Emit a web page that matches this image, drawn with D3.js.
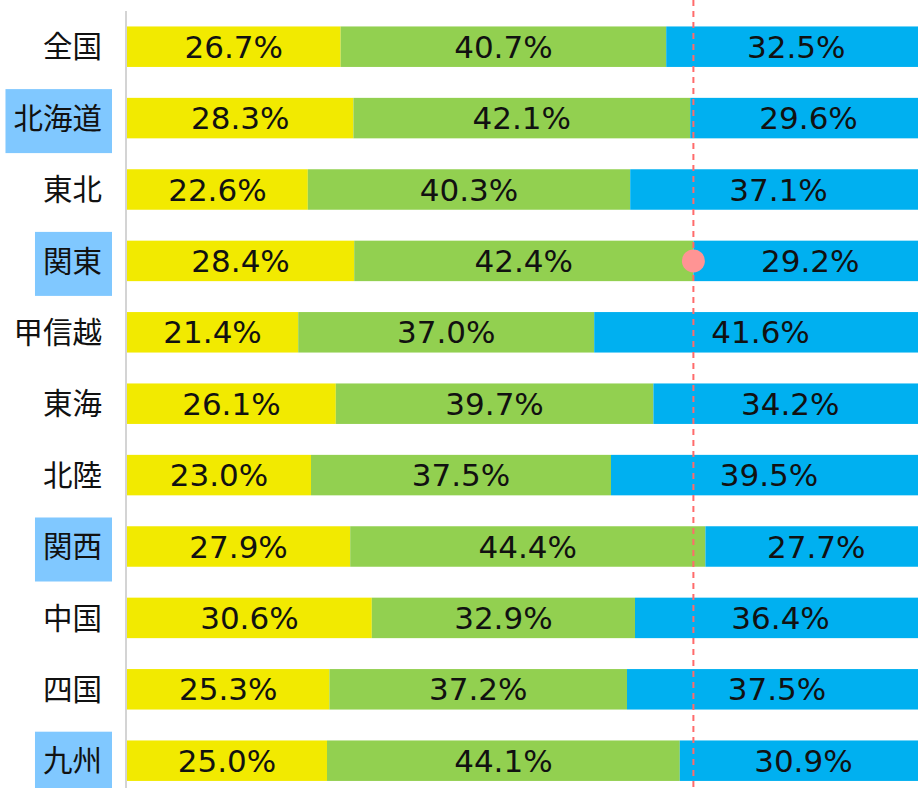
<!DOCTYPE html>
<html><head><meta charset="utf-8">
<script src="https://cdn.jsdelivr.net/npm/d3@7"></script>
<style>body{margin:0;background:#fff;overflow:hidden}svg{display:block}</style>
</head><body>
<svg id="c" width="918" height="788"></svg>
<script>
const categories = ["全国","北海道","東北","関東","甲信越","東海","北陸","関西","中国","四国","九州"];
const seriesA = [26.7,28.3,22.6,28.4,21.4,26.1,23.0,27.9,30.6,25.3,25.0];
const seriesB = [40.7,42.1,40.3,42.4,37.0,39.7,37.5,44.4,32.9,37.2,44.1];
const seriesC = [32.5,29.6,37.1,29.2,41.6,34.2,39.5,27.7,36.4,37.5,30.9];
const highlighted = ["北海道","関東","関西","九州"];
const markerCategory = "関東";
const colors = ["#f2ea00","#92d050","#00b0f0"];

const svg = d3.select("#c");
const x = d3.scaleLinear().domain([0,100]).range([127,927]);
const y = d3.scaleBand().domain(categories).range([11, 11+71.4*11]).paddingInner(0.433).paddingOuter(0.2165);

const rows = categories.map((c,i)=>({c, vals:[seriesA[i],seriesB[i],seriesC[i]]}));

// bars
rows.forEach(r=>{
  let acc=0;
  const g = svg.append("g");
  r.vals.forEach((v,k)=>{
    const x0=x(acc), x1=x(acc+v);
    g.append("rect").attr("x",x0).attr("y",y(r.c)).attr("width",x1-x0).attr("height",y.bandwidth()).attr("fill",colors[k]);
    g.append("text").attr("x",(x0+x1)/2).attr("y",y(r.c)+y.bandwidth()/2).attr("dy","0.36em")
      .attr("text-anchor","middle").attr("font-family","DejaVu Sans, sans-serif").attr("font-size",31).attr("fill","#111")
      .text(v.toFixed(1)+"%");
    acc+=v;
  });
});

// axis line
svg.append("line").attr("x1",126).attr("x2",126).attr("y1",11).attr("y2",788).attr("stroke","#d4d4d4").attr("stroke-width",2);

// labels
rows.forEach(r=>{
  const cy = y(r.c)+y.bandwidth()/2;
  const g = svg.append("g");
  const t = g.append("text").attr("x",102).attr("y",cy).attr("dy","0.36em").attr("text-anchor","end")
    .attr("font-family","Noto Sans CJK JP, sans-serif").attr("font-size",29.5).attr("fill","#111").text(r.c);
  if (highlighted.includes(r.c)) {
    const w = t.node().getComputedTextLength();
    g.insert("rect","text").attr("x",102-w-8).attr("y",cy-29).attr("width",w+18).attr("height",64).attr("fill","#80c8ff");
  }
});

// marker line & dot
const mi = categories.indexOf(markerCategory);
const mx = x(seriesA[mi]+seriesB[mi]);
svg.append("line").attr("x1",mx).attr("x2",mx).attr("y1",0).attr("y2",788)
  .attr("stroke","#ff6b6b").attr("stroke-width",2).attr("stroke-dasharray","6,5");
svg.append("circle").attr("cx",mx).attr("cy",y(markerCategory)+y.bandwidth()/2).attr("r",11.5).attr("fill","#ff9494");
</script>
</body></html>
